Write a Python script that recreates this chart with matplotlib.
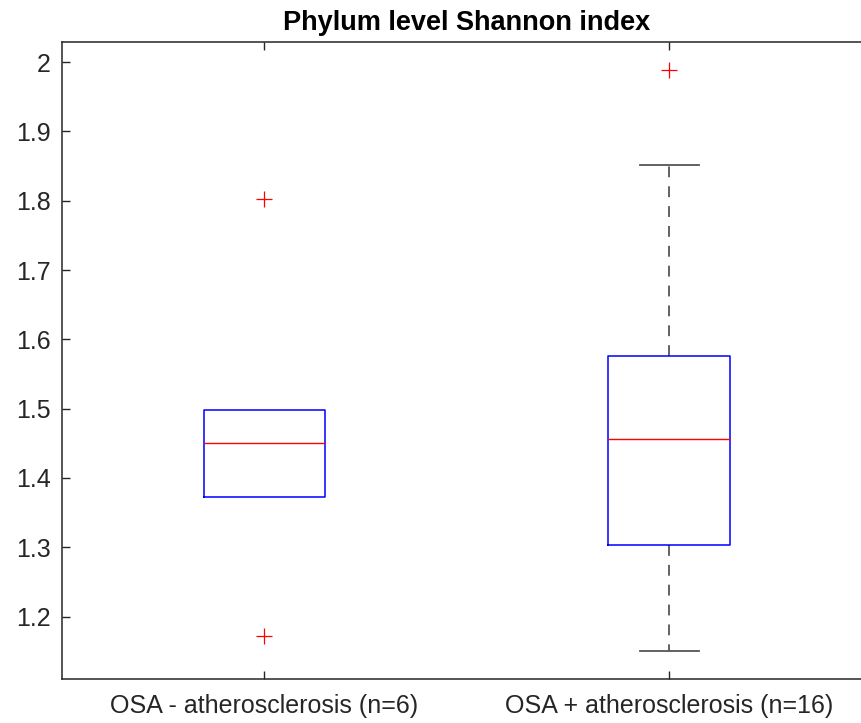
import matplotlib.pyplot as plt

# Shannon index summary per group (quartiles, whiskers, outliers)
groups = ['OSA - atherosclerosis (n=6)', 'OSA + atherosclerosis (n=16)']
q1 = [1.372, 1.303]
medians = [1.450, 1.456]
q3 = [1.498, 1.576]
whisker_low = [1.372, 1.150]
whisker_high = [1.498, 1.851]
outliers = [[1.803, 1.172], [1.988]]

plt.rcParams['font.family'] = ['Liberation Sans', 'DejaVu Sans']

fig = plt.figure(figsize=(8.61, 7.23), dpi=100)
ax = fig.add_axes([62 / 861, 1 - 679 / 723, (871.5 - 62) / 861, (679 - 42) / 723])

stats = []
for i in range(len(groups)):
    stats.append({'med': medians[i], 'q1': q1[i], 'q3': q3[i],
                  'whislo': whisker_low[i], 'whishi': whisker_high[i],
                  'fliers': outliers[i], 'label': groups[i]})

axc = '#262626'
parts = ax.bxp(stats, positions=[1, 2], widths=0.30, showfliers=True,
               boxprops=dict(color='#0000ff', linewidth=1.1, zorder=3),
               medianprops=dict(color='#ff0000', linewidth=1.0, zorder=3.1),
               whiskerprops=dict(color='#555555', linewidth=1.3,
                                 linestyle=(0, (6, 5)), zorder=2),
               capprops=dict(color='#555555', linewidth=1.3, zorder=2),
               capwidths=0.146,
               flierprops=dict(marker='+', markeredgecolor='#ff0000', markersize=12,
                               markeredgewidth=0.9, linestyle='none'))

# whiskers of zero length sit under the box edge; hide their caps
for i in range(len(groups)):
    if whisker_low[i] == q1[i]:
        parts['caps'][2 * i].set_visible(False)
    if whisker_high[i] == q3[i]:
        parts['caps'][2 * i + 1].set_visible(False)

ax.set_xlim(0.5, 2.5)
ax.set_ylim(1.110, 2.029)
ax.set_yticks([1.2, 1.3, 1.4, 1.5, 1.6, 1.7, 1.8, 1.9, 2.0])
ax.set_yticklabels(['1.2', '1.3', '1.4', '1.5', '1.6', '1.7', '1.8', '1.9', '2'])
ax.set_xticks([1, 2])
ax.set_xticklabels(groups)

for side in ['left', 'bottom', 'top']:
    ax.spines[side].set_color(axc)
    ax.spines[side].set_linewidth(1.1)
ax.spines['right'].set_visible(False)
ax.tick_params(direction='in', length=6, width=1.0, colors=axc,
               labelsize=18, top=True, right=False, pad=8)
ax.tick_params(axis='x', pad=11)

ax.set_title('Phylum level Shannon index', fontsize=19.5, fontweight='bold',
             color='black', pad=9)

fig.savefig('out.png', dpi=100)
